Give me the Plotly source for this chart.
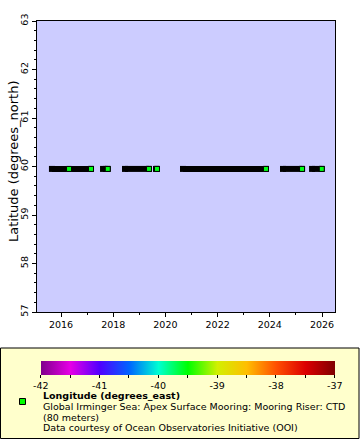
import plotly.graph_objects as go

# ---- data ----
seg_start = ["2015-08-27", "2017-08-11", "2018-06-14", "2019-08-22", "2020-09-03", "2024-07-03", "2025-08-14"]
seg_end   = ["2017-02-24", "2017-10-16", "2019-05-16", "2019-09-05", "2023-11-08", "2025-03-27", "2025-12-28"]
seg_lat = 59.95

pt_time = ["2016-04-22", "2017-02-24", "2017-10-16", "2019-05-16", "2019-09-05", "2023-11-08", "2025-03-27", "2025-12-28"]
pt_lon  = [-39.55, -39.55, -39.55, -39.55, -39.55, -39.55, -39.55, -39.55]

cb_tickvals = [-42, -41.5, -41, -40.5, -40, -39.5, -39, -38.5, -38, -37.5, -37]
cb_ticktext = ["-42", "", "-41", "", "-40", "", "-39", "", "-38", "", "-37"]

legend_lines = [
    "Global Irminger Sea: Apex Surface Mooring: Mooring Riser: CTD",
    "(80 meters)",
    "Data courtesy of Ocean Observatories Initiative (OOI)",
]

FONT = "DejaVu Sans"
W, H = 360, 440
L, R, T, B = 37, 25, 21, 128
PW, PH = W - L - R, H - T - B


def px(x):
    return (x - L) / PW


def py(y):
    return (H - B - y) / PH


colorscale = [
    [0.0, "rgb(128,0,140)"],
    [0.1, "rgb(230,0,230)"],
    [0.2, "rgb(80,0,255)"],
    [0.3, "rgb(0,100,255)"],
    [0.4, "rgb(0,255,210)"],
    [0.5, "rgb(0,255,0)"],
    [0.6, "rgb(210,240,0)"],
    [0.7, "rgb(255,190,0)"],
    [0.8, "rgb(255,80,0)"],
    [0.9, "rgb(220,0,0)"],
    [1.0, "rgb(128,0,0)"],
]

xs, ys = [], []
for s, e in zip(seg_start, seg_end):
    xs += [s, e, None]
    ys += [seg_lat, seg_lat, None]

fig = go.Figure()
fig.add_trace(go.Scatter(
    x=xs, y=ys, mode="lines+markers",
    line=dict(color="black", width=6),
    marker=dict(symbol="square", size=6, color="black", line=dict(width=0)),
    hoverinfo="skip", showlegend=False,
))
fig.add_trace(go.Scatter(
    x=pt_time, y=[seg_lat] * len(pt_time), mode="markers",
    marker=dict(
        symbol="square", size=5, color=pt_lon, colorscale=colorscale,
        cmin=-42, cmax=-37, line=dict(color="black", width=1),
        showscale=True,
        colorbar=dict(
            orientation="h", x=px((41 + 334.5) / 2), xanchor="center",
            y=py(361), yanchor="top", len=293.5, lenmode="pixels",
            thickness=14, outlinewidth=0, ticks="outside", ticklen=3,
            tickcolor="black", tickvals=cb_tickvals, ticktext=cb_ticktext,
            tickfont=dict(family=FONT, size=9.5, color="black"),
            xpad=0, ypad=0,
        ),
    ),
    showlegend=False,
))

fig.update_layout(
    width=W, height=H,
    margin=dict(l=L, r=R, t=T, b=B),
    paper_bgcolor="white", plot_bgcolor="#ccccff",
    font=dict(family=FONT, size=9.5, color="black"),
    showlegend=False,
    xaxis=dict(
        type="date", range=["2015-01-30", "2026-07-01"],
        tick0="2016-01-01", dtick="M24", tickformat="%Y",
        ticks="outside", ticklen=4, tickcolor="black",
        minor=dict(dtick="M12", ticks="outside", ticklen=2, tickcolor="black"),
        showgrid=False, zeroline=False,
        showline=True, linecolor="black", linewidth=1, mirror=True,
        tickfont=dict(family=FONT, size=9.5),
    ),
    yaxis=dict(
        range=[57, 63], dtick=1, tickangle=-90,
        ticks="outside", ticklen=4, tickcolor="black",
        minor=dict(dtick=0.2, ticks="outside", ticklen=2, tickcolor="black"),
        showgrid=False, zeroline=False,
        showline=True, linecolor="black", linewidth=1, mirror=True,
        tickfont=dict(family=FONT, size=9.5),
    ),
)

# legend box
fig.add_shape(type="rect", xref="paper", yref="paper",
              x0=px(0.5), x1=px(359), y0=py(348), y1=py(438.5),
              line=dict(color="black", width=1), fillcolor="#ffffcc", layer="below")
fig.add_shape(type="rect", xref="paper", yref="paper",
              x0=px(19.5), x1=px(25.5), y0=py(398.5), y1=py(404.5),
              line=dict(color="black", width=1), fillcolor="#00ff00")

# y title
fig.add_annotation(text="Latitude (degrees_north)", xref="paper", yref="paper",
                   x=px(13), y=py(162), textangle=-90, showarrow=False,
                   xanchor="center", yanchor="middle",
                   font=dict(family=FONT, size=13))

fig.add_annotation(text="<b>Longitude (degrees_east)</b>", xref="paper", yref="paper",
                   x=px(41), y=py(395.5), xanchor="left", yanchor="middle",
                   showarrow=False, font=dict(family=FONT, size=9.5))
for i, t in enumerate(legend_lines):
    fig.add_annotation(text=t, xref="paper", yref="paper",
                       x=px(41), y=py(406.3 + i * 10.8), xanchor="left", yanchor="middle",
                       showarrow=False, font=dict(family=FONT, size=9.5))

fig.write_html("out.html", config={"displayModeBar": False},
               post_script="document.body.style.margin='0';")
